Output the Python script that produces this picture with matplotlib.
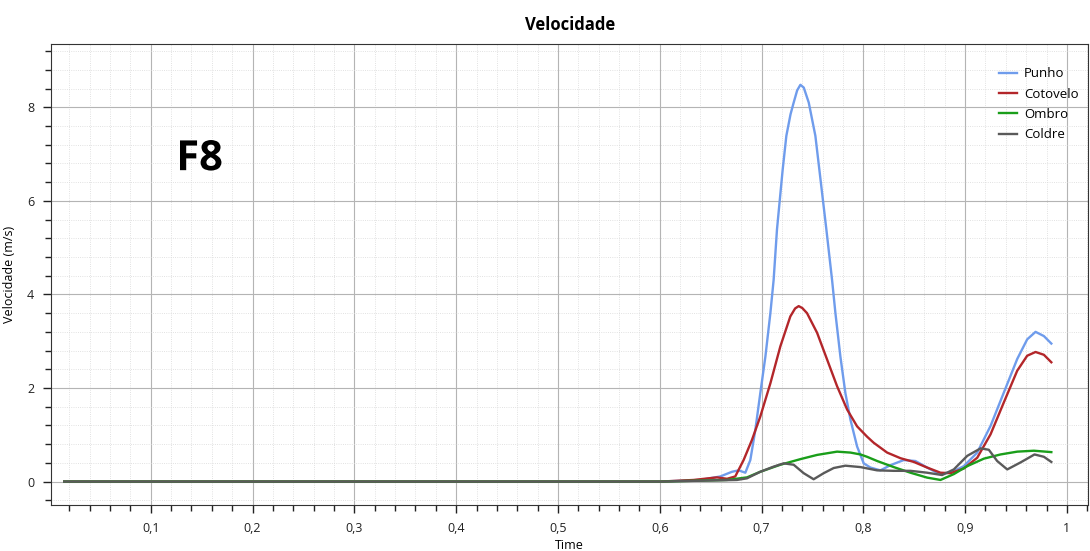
import matplotlib
matplotlib.use("Agg")
import matplotlib.pyplot as plt
import matplotlib.patheffects as pe
from matplotlib.ticker import MultipleLocator, FuncFormatter

plt.rcParams['font.family'] = ['Open Sans', 'DejaVu Sans']

# valores (tempo em s, velocidade em m/s)
t_punho = [0.015, 0.10, 0.20, 0.30, 0.40, 0.50, 0.6005, 0.6398, 0.6595, 0.6710, 0.6775,
           0.6841, 0.6890, 0.6939, 0.6988, 0.7038, 0.7087, 0.7119, 0.7152, 0.7208, 0.7244,
           0.7285, 0.7316, 0.7350, 0.7382, 0.7415, 0.7464, 0.7529, 0.7568, 0.7637, 0.7693,
           0.7726, 0.7775, 0.7824, 0.7874, 0.7939, 0.8004, 0.8070, 0.8168, 0.8266, 0.8397,
           0.8512, 0.8627, 0.8741, 0.8857, 0.8987, 0.9119, 0.9250, 0.9380, 0.9512, 0.9610,
           0.9692, 0.9774, 0.9847]
v_punho = [0.0, 0.0, 0.0, 0.0, 0.0, 0.0, 0.0, 0.035, 0.11, 0.21, 0.24,
           0.19, 0.46, 1.10, 1.89, 2.67, 3.60, 4.31, 5.39, 6.67, 7.39,
           7.85, 8.10, 8.36, 8.48, 8.42, 8.10, 7.39, 6.67, 5.39, 4.31,
           3.60, 2.67, 1.89, 1.32, 0.75, 0.39, 0.30, 0.24, 0.35, 0.46,
           0.44, 0.30, 0.17, 0.19, 0.33, 0.62, 1.19, 1.90, 2.62, 3.04,
           3.20, 3.11, 2.95]

t_cotovelo = [0.015, 0.10, 0.20, 0.30, 0.40, 0.50, 0.6005, 0.6333, 0.6562, 0.6661, 0.6742,
              0.6824, 0.6906, 0.6988, 0.7087, 0.7185, 0.7283, 0.7330, 0.7365, 0.7400, 0.7447,
              0.7546, 0.7644, 0.7742, 0.7841, 0.7939, 0.8037, 0.8102, 0.8234, 0.8365, 0.8496,
              0.8627, 0.8758, 0.8857, 0.8987, 0.9119, 0.9250, 0.9380, 0.9512, 0.9610, 0.9692,
              0.9774, 0.9847]
v_cotovelo = [0.0, 0.0, 0.0, 0.0, 0.0, 0.0, 0.0, 0.035, 0.09, 0.06, 0.11,
              0.46, 0.89, 1.39, 2.10, 2.89, 3.53, 3.70, 3.75, 3.71, 3.60,
              3.18, 2.61, 2.04, 1.54, 1.18, 0.96, 0.83, 0.62, 0.50, 0.42,
              0.30, 0.19, 0.18, 0.28, 0.51, 1.01, 1.69, 2.37, 2.69, 2.77,
              2.71, 2.55]

t_ombro = [0.015, 0.10, 0.20, 0.30, 0.40, 0.50, 0.6005, 0.6661, 0.6857, 0.6988, 0.7185,
           0.7382, 0.7546, 0.7742, 0.7874, 0.7972, 0.8037, 0.8136, 0.8299, 0.8463, 0.8627,
           0.8758, 0.8889, 0.9021, 0.9184, 0.9348, 0.9512, 0.9676, 0.9847]
v_ombro = [0.0, 0.0, 0.0, 0.0, 0.0, 0.0, 0.0, 0.035, 0.09, 0.21, 0.36,
           0.48, 0.57, 0.64, 0.62, 0.58, 0.53, 0.44, 0.31, 0.19, 0.085,
           0.035, 0.16, 0.33, 0.49, 0.58, 0.64, 0.66, 0.63]

t_coldre = [0.015, 0.10, 0.20, 0.30, 0.40, 0.50, 0.6005, 0.6759, 0.6857, 0.6988, 0.7119,
            0.7218, 0.7316, 0.7414, 0.7512, 0.7611, 0.7709, 0.7824, 0.7972, 0.8136, 0.8299,
            0.8463, 0.8627, 0.8774, 0.8889, 0.9021, 0.9152, 0.9233, 0.9315, 0.9414, 0.9545,
            0.9682, 0.9774, 0.9847]
v_coldre = [0.0, 0.0, 0.0, 0.0, 0.0, 0.0, 0.0, 0.035, 0.07, 0.21, 0.32,
            0.39, 0.36, 0.18, 0.05, 0.18, 0.29, 0.34, 0.31, 0.24, 0.23,
            0.23, 0.19, 0.14, 0.26, 0.55, 0.71, 0.68, 0.44, 0.26, 0.41,
            0.58, 0.53, 0.42]

series = [("Punho", t_punho, v_punho, "#6f9cec"),
          ("Cotovelo", t_cotovelo, v_cotovelo, "#b3262a"),
          ("Ombro", t_ombro, v_ombro, "#1a9e1a"),
          ("Coldre", t_coldre, v_coldre, "#5a5a5a")]

fig = plt.figure(figsize=(10.9, 5.51), dpi=100)
ax = fig.add_axes([0.0468, 0.0835, 0.9518, 0.8365])

for name, t, v, c in series:
    ax.plot(t, v, color=c, lw=1.7, label=name, solid_joinstyle="round")

ax.set_xlim(0.002, 1.0212)
ax.set_ylim(-0.5, 9.35)
ax.xaxis.set_major_locator(MultipleLocator(0.1))
ax.xaxis.set_minor_locator(MultipleLocator(0.02))
ax.yaxis.set_major_locator(MultipleLocator(2))
ax.yaxis.set_minor_locator(MultipleLocator(0.4))
ax.xaxis.set_major_formatter(FuncFormatter(lambda x, p: ("%g" % round(x, 2)).replace(".", ",") if x > 0.01 else ""))

ax.grid(which="major", color="#b4b4b4", lw=0.8)
ax.grid(which="minor", color="#d8d8d8", lw=0.6, ls=":")
ax.set_axisbelow(True)
ax.tick_params(which="major", length=6, width=1, labelsize=9, colors="#222222", direction="out", pad=6)
ax.tick_params(which="minor", length=4, width=1, direction="out", colors="#222222")
for s in ax.spines.values():
    s.set_color("#333333")

ax.set_title("Velocidade", fontsize=12, fontweight="bold", pad=10)
ax.set_xlabel("Time", fontsize=9, labelpad=3)
ax.set_ylabel("Velocidade (m/s)", fontsize=9, labelpad=8)

ax.text(0.148, 6.88, "F8", fontsize=30, fontweight="bold", ha="center", va="center",
        color="black", path_effects=[pe.withStroke(linewidth=2, foreground="white")])

ax.legend(loc="upper right", bbox_to_anchor=(0.9957, 0.961), frameon=False, fontsize=9.5,
          handlelength=1.36, handletextpad=0.53, borderaxespad=0, labelspacing=0.56)

fig.savefig("out.png", dpi=100)
